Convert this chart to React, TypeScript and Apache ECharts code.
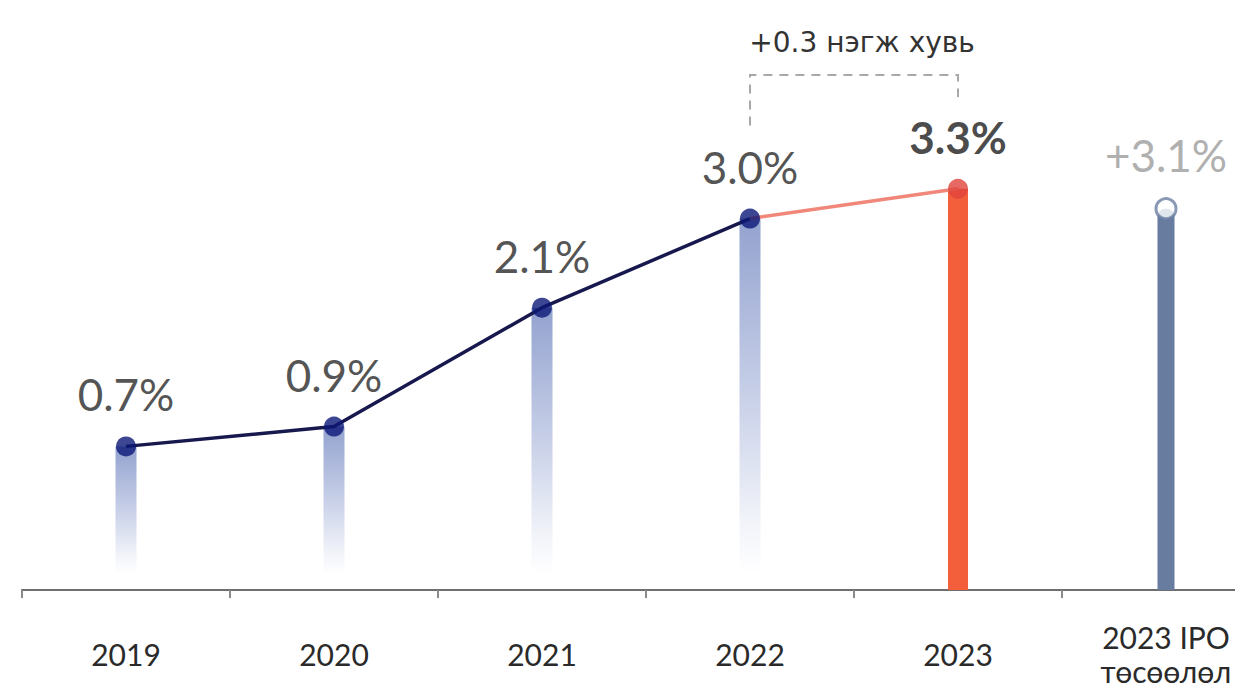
import React, { useEffect, useRef } from "react";
import * as echarts from "echarts";

const categories = ["2019", "2020", "2021", "2022", "2023", "2023 IPO\nтөсөөлөл"];
const values = [0.7, 0.9, 2.1, 3.0, 3.3, 3.1];
const valueLabels = ["0.7%", "0.9%", "2.1%", "3.0%", "3.3%", "+3.1%"];
const historyLine = [0.7, 0.9, 2.1, 3.0, "-", "-"];
const latestLine = ["-", "-", "-", 3.0, 3.3, "-"];
const annotationText = "+0.3 нэгж хувь";

const Y_MIN = -0.75;
const Y_MAX = 4.5;
const FONT = "Lato, 'Noto Sans', sans-serif";

export default function App() {
  const ref = useRef<HTMLDivElement>(null);

  useEffect(() => {
    document.body.style.margin = "0";
    document.body.style.overflow = "hidden";
    document.documentElement.style.overflow = "hidden";
    const chart = echarts.init(ref.current!, null, { renderer: "svg" });

    const pointStyles = values.map((_, i) => {
      if (i < 4) return { color: "#0b1877", borderColor: "#0b1877", borderWidth: 0 };
      if (i === 4) return { color: "#e0443c", borderColor: "#e0443c", borderWidth: 0 };
      return { color: "#ffffff", borderColor: "#6b7fa3", borderWidth: 3 };
    });
    const labelStyles = values.map((_, i) => {
      if (i === 4) return { color: "#1a1a1a", fontWeight: "bold" };
      if (i === 5) return { color: "#9a9a9a", fontWeight: "normal" };
      return { color: "#262626", fontWeight: "normal" };
    });

    chart.setOption({
      animation: false,
      grid: { left: 22, right: 2, top: 70, bottom: 95 },
      xAxis: {
        type: "category",
        data: categories,
        boundaryGap: true,
        axisLine: { show: true, onZero: false, lineStyle: { color: "#6e6e6e", width: 2 } },
        axisTick: { show: true, length: 8, lineStyle: { color: "#8a8a8a", width: 2 } },
        axisLabel: {
          interval: 0,
          margin: 64,
          verticalAlign: "middle",
          fontFamily: FONT,
          fontSize: 30,
          lineHeight: 34,
          color: "#2a2a2a",
        },
      },
      yAxis: {
        type: "value",
        min: Y_MIN,
        max: Y_MAX,
        show: false,
        splitLine: { show: false },
      },
      series: [
        {
          type: "custom",
          z: 1,
          data: values.map((v, i) => [i, v]),
          renderItem: (params: any, api: any) => {
            const i = params.dataIndex;
            const top = api.coord([api.value(0), api.value(1)]);
            const bottom = api.coord([api.value(0), Y_MIN]);
            let fill: any;
            let w = 20;
            let bottomY = bottom[1];
            if (i < 4) {
              fill = new echarts.graphic.LinearGradient(0, 0, 0, 1, [
                { offset: 0, color: "#93a2cf" },
                { offset: 0.5, color: "#c8d0e8" },
                { offset: 0.85, color: "#f1f3f9" },
                { offset: 1, color: "rgba(255,255,255,1)" },
              ]);
              bottomY = bottom[1] - 16;
              w = 21;
            } else if (i === 4) {
              fill = "#f25f3a";
            } else {
              fill = "#687ca0";
              w = 17;
            }
            return {
              type: "rect",
              shape: { x: top[0] - w / 2, y: top[1], width: w, height: bottomY - top[1], r: i === 5 ? [8, 8, 0, 0] : 0 },
              style: { fill },
            };
          },
        },
        {
          type: "line",
          z: 2,
          data: historyLine,
          symbol: "none",
          lineStyle: { color: "#17184d", width: 3.5 },
        },
        {
          type: "line",
          z: 2,
          data: latestLine,
          symbol: "none",
          lineStyle: { color: "#f0877a", width: 3.5 },
        },
        {
          type: "scatter",
          z: 3,
          symbolSize: 20,
          data: values.map((v, i) => ({
            value: v,
            itemStyle: pointStyles[i],
            label: {
              show: true,
              position: "top",
              distance: 20,
              formatter: valueLabels[i],
              fontFamily: FONT,
              fontSize: 44,
              ...labelStyles[i],
            },
          })),
        },
      ],
    });

    const p1 = chart.convertToPixel({ gridIndex: 0 }, [3, values[3]]) as number[];
    const p2 = chart.convertToPixel({ gridIndex: 0 }, [4, values[4]]) as number[];
    const topY = 75;
    chart.setOption({
      graphic: [
        {
          type: "polyline",
          shape: {
            points: [
              [p1[0], p1[1] - 93],
              [p1[0], topY],
              [p2[0], topY],
              [p2[0], topY + 22],
            ],
          },
          style: { stroke: "#a8a8a8", lineWidth: 2, lineDash: [9, 7], fill: null },
        },
        {
          type: "text",
          x: (p1[0] + p2[0]) / 2 + 8,
          y: 42,
          style: {
            text: annotationText,
            fontFamily: "'DejaVu Sans', sans-serif",
            fontSize: 28,
            fill: "#333333",
            align: "center",
            verticalAlign: "middle",
          },
        },
      ],
    });

    return () => chart.dispose();
  }, []);

  return <div ref={ref} style={{ width: 1272, height: 688 }} />;
}
